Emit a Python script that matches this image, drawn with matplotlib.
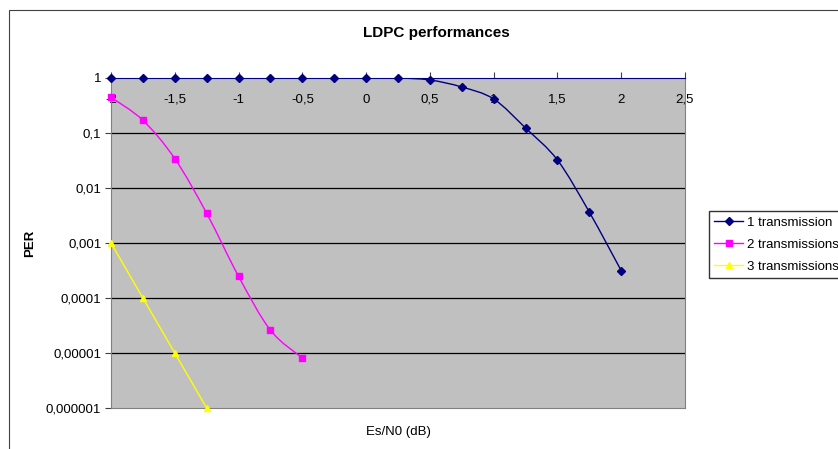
import numpy as np
import matplotlib.pyplot as plt
from matplotlib.path import Path
from matplotlib.patches import PathPatch, Rectangle
from matplotlib.lines import Line2D

plt.rcParams['font.family'] = ['Liberation Sans', 'DejaVu Sans']

x1 = [-2, -1.75, -1.5, -1.25, -1, -0.75, -0.5, -0.25, 0, 0.25, 0.5, 0.75, 1, 1.25, 1.5, 1.75, 2]
per1 = [1, 1, 1, 1, 1, 1, 1, 1, 1, 1, 0.92, 0.686, 0.415, 0.123, 0.0322, 0.00364, 0.000314]

x2 = [-2, -1.75, -1.5, -1.25, -1, -0.75, -0.5]
per2 = [0.446, 0.17, 0.0342, 0.00347, 0.000248, 0.000026, 0.0000081]

x3 = [-2, -1.75, -1.5, -1.25]
per3 = [0.001, 0.0001, 0.00001, 0.000001]

xticks = [-2, -1.5, -1, -0.5, 0, 0.5, 1, 1.5, 2, 2.5]
xtick_labels = ['-2', '-1,5', '-1', '-0,5', '0', '0,5', '1', '1,5', '2', '2,5']
yticks = [1, 0.1, 0.01, 0.001, 0.0001, 0.00001, 0.000001]
ytick_labels = ['1', '0,1', '0,01', '0,001', '0,0001', '0,00001', '0,000001']

series = [
    (x1, per1, '1 transmission', '#000080', 'D', 4),
    (x2, per2, '2 transmissions', '#FF00FF', 's', 5),
    (x3, per3, '3 transmissions', '#FFFF00', '^', 5),
]


def smooth_path(x, y):
    # Excel-like smoothed line: Catmull-Rom in (x, log y) space
    pts = np.column_stack([np.asarray(x, float), np.log10(y)])
    n = len(pts)
    verts = [pts[0]]
    codes = [Path.MOVETO]
    for i in range(n - 1):
        p0 = pts[i - 1] if i > 0 else pts[i]
        p1 = pts[i]
        p2 = pts[i + 1]
        p3 = pts[i + 2] if i + 2 < n else pts[i + 1]
        verts += [p1 + (p2 - p0) / 6, p2 - (p3 - p1) / 6, p2]
        codes += [Path.CURVE4] * 3
    v = np.array(verts)
    v[:, 1] = 10 ** v[:, 1]
    return Path(v, codes)


fig = plt.figure(figsize=(8.38, 4.49), dpi=100)
fig.patches.append(Rectangle((9 / 838, -0.1), 1.0, 1.1 - 10 / 449, transform=fig.transFigure,
                             fill=False, edgecolor='#404040', lw=0.8))

ax = fig.add_axes([111 / 838, 1 - 408 / 449, (685 - 111) / 838, (408 - 78) / 449])
ax.set_facecolor('#C0C0C0')
ax.set_yscale('log')
ax.set_xlim(-2, 2.5)
ax.set_ylim(1e-6, 1)

for yv in yticks[1:-1]:
    ax.axhline(yv, color='black', lw=0.9, zorder=1)

handles = []
for x, y, name, color, marker, ms in series:
    ax.add_patch(PathPatch(smooth_path(x, y), fill=False, edgecolor=color, lw=1, zorder=3))
    ax.plot(x, y, linestyle='none', marker=marker, color=color, markersize=ms, clip_on=False, zorder=4)
    handles.append(Line2D([], [], color=color, marker=marker, markersize=ms, lw=1, label=name))

ax.set_xticks(xticks)
ax.set_xticklabels(xtick_labels)
ax.set_yticks(yticks)
ax.set_yticklabels(ytick_labels)
ax.minorticks_off()
ax.tick_params(axis='x', top=True, bottom=False, labeltop=True, labelbottom=False,
               direction='out', length=4, pad=-24, labelsize=9.5, color='#404040')
ax.tick_params(axis='y', direction='out', length=4, pad=3, labelsize=9.5, color='#404040')

for side in ['left', 'bottom', 'right']:
    ax.spines[side].set_color('#808080')
ax.spines['top'].set_color('#000080')

fig.text(436 / 838, 1 - 33 / 449, 'LDPC performances', ha='center', va='center',
         fontsize=11, fontweight='bold')
fig.text(398 / 838, 1 - 432 / 449, 'Es/N0 (dB)', ha='center', va='center',
         fontsize=9.5)
fig.text(30 / 838, 1 - 243 / 449, 'PER', ha='center', va='center', rotation=90,
         fontsize=9.5, fontweight='bold')

fig.legend(handles=handles, loc='upper left', bbox_to_anchor=(709 / 838, 1 - 211 / 449),
           fontsize=9.5, frameon=True, fancybox=False, edgecolor='black',
           handlelength=2.2, borderpad=0.4, labelspacing=0.75, handletextpad=0.3, borderaxespad=0)

fig.savefig('out.png', dpi=100)
